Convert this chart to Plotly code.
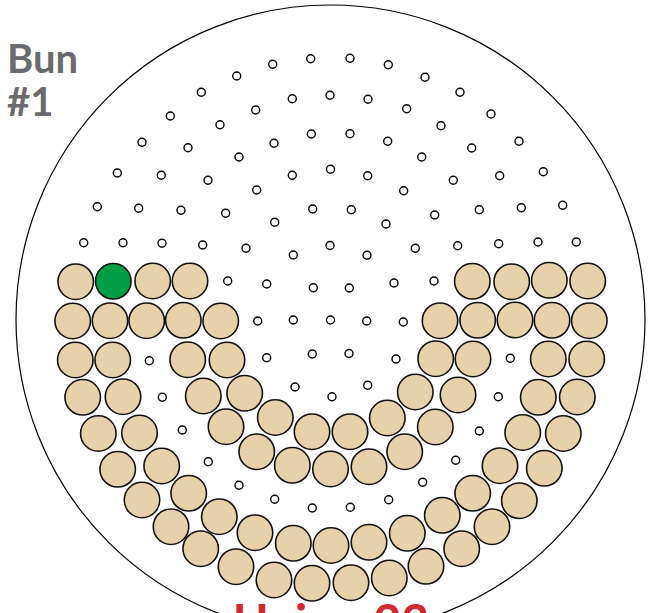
import plotly.graph_objects as go

# Small (open) seats
small_x = [83.7, 97.3, 117.3, 142, 170.3, 201.3, 236.7, 272.7, 310.7, 350, 388.3, 425, 460, 491, 519, 543.3, 562.7, 576.3,
           123, 138.7, 161.3, 188, 220, 255.7, 292.3, 330, 368, 406.7, 441, 471.7, 499.7, 521.3, 538,
           162, 181, 208, 239, 274, 311.3, 350, 387.7, 421.7, 453.3, 479.3, 498.7,
           202.7, 225.7, 256.7, 292.3, 330.5, 367.7, 403.7, 434.7, 457.7,
           246, 274.7, 312.7, 351.3, 386, 415.3,
           293.3, 330, 367,
           227.7, 266.7, 313.3, 349.3, 394, 434,
           257.7, 293.3, 330.5, 366.7, 403.3,
           149.3, 266.7, 312.3, 349, 396, 510.3,
           162.3, 295, 332, 367.7, 498.3,
           182.3, 479.3,
           208.3, 455.7,
           239, 422.7,
           274.7, 388.7,
           312.3, 350.3]
small_y = [242.7, 206.7, 173, 142.3, 116, 92.3, 76, 64.3, 58.7, 58.3, 64.7, 77.3, 92.3, 114, 141.3, 171.7, 205.3, 242,
           242.7, 208.3, 175.3, 147.7, 124.7, 110, 98.7, 95.2, 99.3, 108.7, 125.7, 148, 175.7, 207.7, 242,
           243.3, 210.3, 180.3, 157, 143.3, 134, 133.7, 141.3, 157, 180.3, 209.7, 243.7,
           245, 213.3, 190, 175.3, 169.2, 175.7, 190.7, 215, 245.7,
           248.3, 222.3, 209, 209.7, 224, 248.3,
           255, 245.5, 255.3,
           281, 284, 287.7, 288, 283, 281,
           321, 320, 320, 321, 322,
           360.7, 357.7, 354, 353.5, 359, 358.3,
           397.3, 387, 396.7, 385.2, 396.7,
           430, 431,
           461.7, 460.3,
           485.3, 482.3,
           499.3, 499.7,
           508, 507.3]

# Taken seats
big_x = [75.7, 152.7, 190, 472.3, 511.7, 549.3, 587.7,
         72.7, 110, 146.7, 183.3, 220.7, 440, 477.7, 515, 552, 589.3,
         75.3, 112.7, 187.7, 227, 435.7, 473, 548.3, 586.7,
         82.7, 123, 203.3, 244.7, 415.3, 458, 538.3, 577.3,
         98.3, 139.5, 226, 275.3, 312, 350, 387.3, 435.3, 522.7, 563.3,
         117.7, 161.7, 256.7, 292.3, 330.5, 369, 404.7, 500, 544.3,
         142, 188.7, 472.7, 519.3,
         171, 219.3, 442.3, 492,
         200.7, 255, 293.3, 331, 369, 407.3, 461.7,
         236, 274, 312, 351, 389.3, 426]
big_y = [281.7, 281, 281, 281.3, 281.7, 280.3, 281,
         321, 320.7, 320.7, 320.3, 321, 320.7, 320.3, 320, 320.3, 320.7,
         360, 360, 359.7, 360, 358.7, 359, 359, 359,
         397.3, 396.7, 396, 393.3, 392, 395, 397.3, 397,
         433.5, 433, 426.7, 417.5, 431.7, 431.7, 418, 427, 432.5, 433.5,
         469.3, 466, 451.7, 465.3, 469, 466.7, 451.7, 465.7, 468.3,
         500, 493.3, 493.3, 500.7,
         526.7, 516.7, 515.3, 526.7,
         548.7, 532.7, 543.3, 545.5, 542.3, 533.3, 548.7,
         566.7, 580, 583.3, 582.7, 578, 566.3]

# Highlighted seat
green_x = [113.3]
green_y = [281.3]

title_lines = ["Bun", "#1"]
footer_text = "Union 23"

fig = go.Figure()
fig.add_trace(go.Scatter(x=small_x, y=small_y, mode="markers", hoverinfo="skip",
                         marker=dict(size=8, color="white", line=dict(color="black", width=1.4))))
fig.add_trace(go.Scatter(x=big_x, y=big_y, mode="markers", hoverinfo="skip",
                         marker=dict(size=35.5, color="#e6d1ab", line=dict(color="#111111", width=1.6))))
fig.add_trace(go.Scatter(x=green_x, y=green_y, mode="markers", hoverinfo="skip",
                         marker=dict(size=35.5, color="#009e45", line=dict(color="#111111", width=1.6))))

fig.add_shape(type="circle", xref="x", yref="y", x0=16, x1=645, y0=5, y1=634,
              line=dict(color="black", width=1.2), layer="below")

fig.add_annotation(x=5, y=84, xref="x", yref="y", text="<b>" + title_lines[0] + "</b>", showarrow=False,
                   xanchor="left", yanchor="bottom", font=dict(family="Lato", size=40, color="#6b6b6e"))
fig.add_annotation(x=5, y=127, xref="x", yref="y", text="<b>" + title_lines[1] + "</b>", showarrow=False,
                   xanchor="left", yanchor="bottom", font=dict(family="Lato", size=40, color="#6b6b6e"))
fig.add_annotation(x=331, y=590, xref="x", yref="y", text="<b>" + footer_text + "</b>", showarrow=False,
                   xanchor="center", yanchor="top", font=dict(family="Lato", size=48, color="#d2282e"))

fig.update_layout(width=656, height=613, margin=dict(l=0, r=0, t=0, b=0),
                  paper_bgcolor="white", plot_bgcolor="white", showlegend=False,
                  xaxis=dict(range=[0, 656], visible=False, fixedrange=True),
                  yaxis=dict(range=[613, 0], visible=False, fixedrange=True))
fig.write_html("out.html", config={"displayModeBar": False},
               post_script="document.body.style.margin='0px';document.body.style.overflow='hidden';")
